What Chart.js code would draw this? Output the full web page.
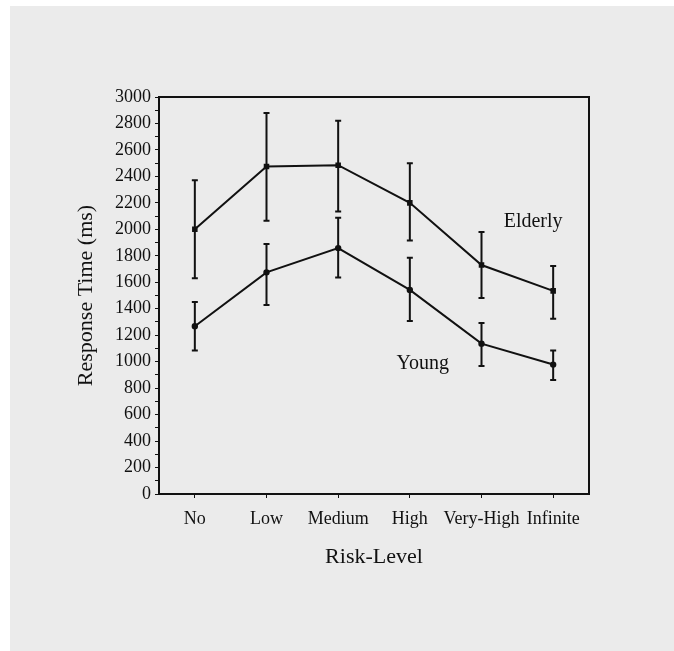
<!DOCTYPE html>
<html lang="en">
<head>
    <meta charset="UTF-8">
    <title>Response Time by Risk-Level</title>
    <style>
        body {
            margin: 0;
            background-color: white;
        }
        .panel {
            position: absolute;
            left: 10px;
            top: 6px;
            right: 0;
            bottom: 0;
            background-color: #ebebeb; /* light gray page */
        }
        #chart {
            position: absolute;
            left: 0;
            top: 0;
        }
    </style>
    <script src="https://cdn.jsdelivr.net/npm/chart.js"></script>
</head>
<body>
    <div class="panel"></div>
    <canvas id="chart" width="674" height="651"></canvas>

    <script>
        // data
        const riskLevels = ['No', 'Low', 'Medium', 'High', 'Very-High', 'Infinite'];

        const elderlyMean  = [2000, 2475, 2485, 2200, 1730, 1535];
        const elderlyUpper = [2370, 2880, 2820, 2500, 1980, 1722];
        const elderlyLower = [1630, 2065, 2135, 1915, 1482, 1325];

        const youngMean  = [1268, 1675, 1858, 1542, 1136, 978];
        const youngUpper = [1450, 1890, 2088, 1785, 1292, 1085];
        const youngLower = [1084, 1428, 1636, 1308, 968, 862];

        // where the series names sit, in data units (category index, ms)
        const elderlyLabelAt = [4.72, 2055];
        const youngLabelAt = [3.18, 985];

        const serif = "'Liberation Serif', 'Times New Roman', serif";
        const ink = '#111';

        // error bars drawn through the chart scales
        const errorBars = {
            id: 'errorBars',
            afterDatasetsDraw(chart) {
                const ctx = chart.ctx;
                const x = chart.scales.x;
                const y = chart.scales.y;
                const bars = [[elderlyUpper, elderlyLower], [youngUpper, youngLower]];
                ctx.save();
                ctx.strokeStyle = ink;
                ctx.lineWidth = 2;
                bars.forEach(([up, low]) => {
                    up.forEach((u, i) => {
                        const px = x.getPixelForValue(i);
                        const yu = y.getPixelForValue(u);
                        const yl = y.getPixelForValue(low[i]);
                        ctx.beginPath();
                        ctx.moveTo(px, yu);
                        ctx.lineTo(px, yl);
                        ctx.moveTo(px - 3, yu);
                        ctx.lineTo(px + 3, yu);
                        ctx.moveTo(px - 3, yl);
                        ctx.lineTo(px + 3, yl);
                        ctx.stroke();
                    });
                });
                ctx.restore();
            }
        };

        // top and right edges of the plot box + series names
        const frameAndNames = {
            id: 'frameAndNames',
            afterDraw(chart) {
                const ctx = chart.ctx;
                const a = chart.chartArea;
                const x = chart.scales.x;
                const y = chart.scales.y;
                ctx.save();
                ctx.strokeStyle = ink;
                ctx.lineWidth = 2;
                ctx.beginPath();
                ctx.moveTo(a.left, a.top);
                ctx.lineTo(a.right, a.top);
                ctx.lineTo(a.right, a.bottom);
                ctx.stroke();

                ctx.fillStyle = ink;
                ctx.font = '20px ' + serif;
                ctx.textAlign = 'center';
                ctx.textBaseline = 'middle';
                ctx.fillText('Elderly', x.getPixelForValue(elderlyLabelAt[0]), y.getPixelForValue(elderlyLabelAt[1]));
                ctx.fillText('Young', x.getPixelForValue(youngLabelAt[0]), y.getPixelForValue(youngLabelAt[1]));
                ctx.restore();
            }
        };

        new Chart(document.getElementById('chart'), {
            type: 'line',
            data: {
                labels: riskLevels,
                datasets: [{
                    label: 'Elderly',
                    data: elderlyMean,
                    borderColor: ink,
                    backgroundColor: ink,
                    borderWidth: 2,
                    pointStyle: 'rect',
                    pointRadius: 2.5,
                    tension: 0,
                    fill: false
                }, {
                    label: 'Young',
                    data: youngMean,
                    borderColor: ink,
                    backgroundColor: ink,
                    borderWidth: 2,
                    pointStyle: 'circle',
                    pointRadius: 2.2,
                    tension: 0,
                    fill: false
                }]
            },
            options: {
                responsive: false,
                animation: false,
                layout: {
                    padding: { left: 0, top: 97, right: 85, bottom: 0 }
                },
                plugins: {
                    legend: { display: false },
                    tooltip: { enabled: false }
                },
                scales: {
                    x: {
                        offset: true,
                        afterFit: (scale) => { scale.height = 157; },
                        grid: {
                            offset: false,
                            drawOnChartArea: false,
                            tickLength: 4,
                            color: ink
                        },
                        border: { color: ink, width: 2 },
                        ticks: {
                            color: ink,
                            padding: 10,
                            maxRotation: 0,
                            autoSkip: false,
                            font: { family: serif, size: 18 }
                        },
                        title: {
                            display: true,
                            text: 'Risk-Level',
                            color: ink,
                            padding: { bottom: 81 },
                            font: { family: serif, size: 22 }
                        }
                    },
                    y: {
                        min: 0,
                        max: 3000,
                        afterFit: (scale) => { scale.width = 159; },
                        grid: {
                            drawOnChartArea: false,
                            tickLength: 4,
                            color: ink
                        },
                        border: { color: ink, width: 2 },
                        ticks: {
                            stepSize: 100,
                            color: ink,
                            padding: 4,
                            autoSkip: false,
                            font: { family: serif, size: 18 },
                            callback: (v) => (v % 200 === 0 ? v : '')
                        },
                        title: {
                            display: true,
                            text: 'Response Time (ms)',
                            color: ink,
                            padding: { top: 73 },
                            font: { family: serif, size: 22 }
                        }
                    }
                }
            },
            plugins: [errorBars, frameAndNames]
        });
    </script>
</body>
</html>
